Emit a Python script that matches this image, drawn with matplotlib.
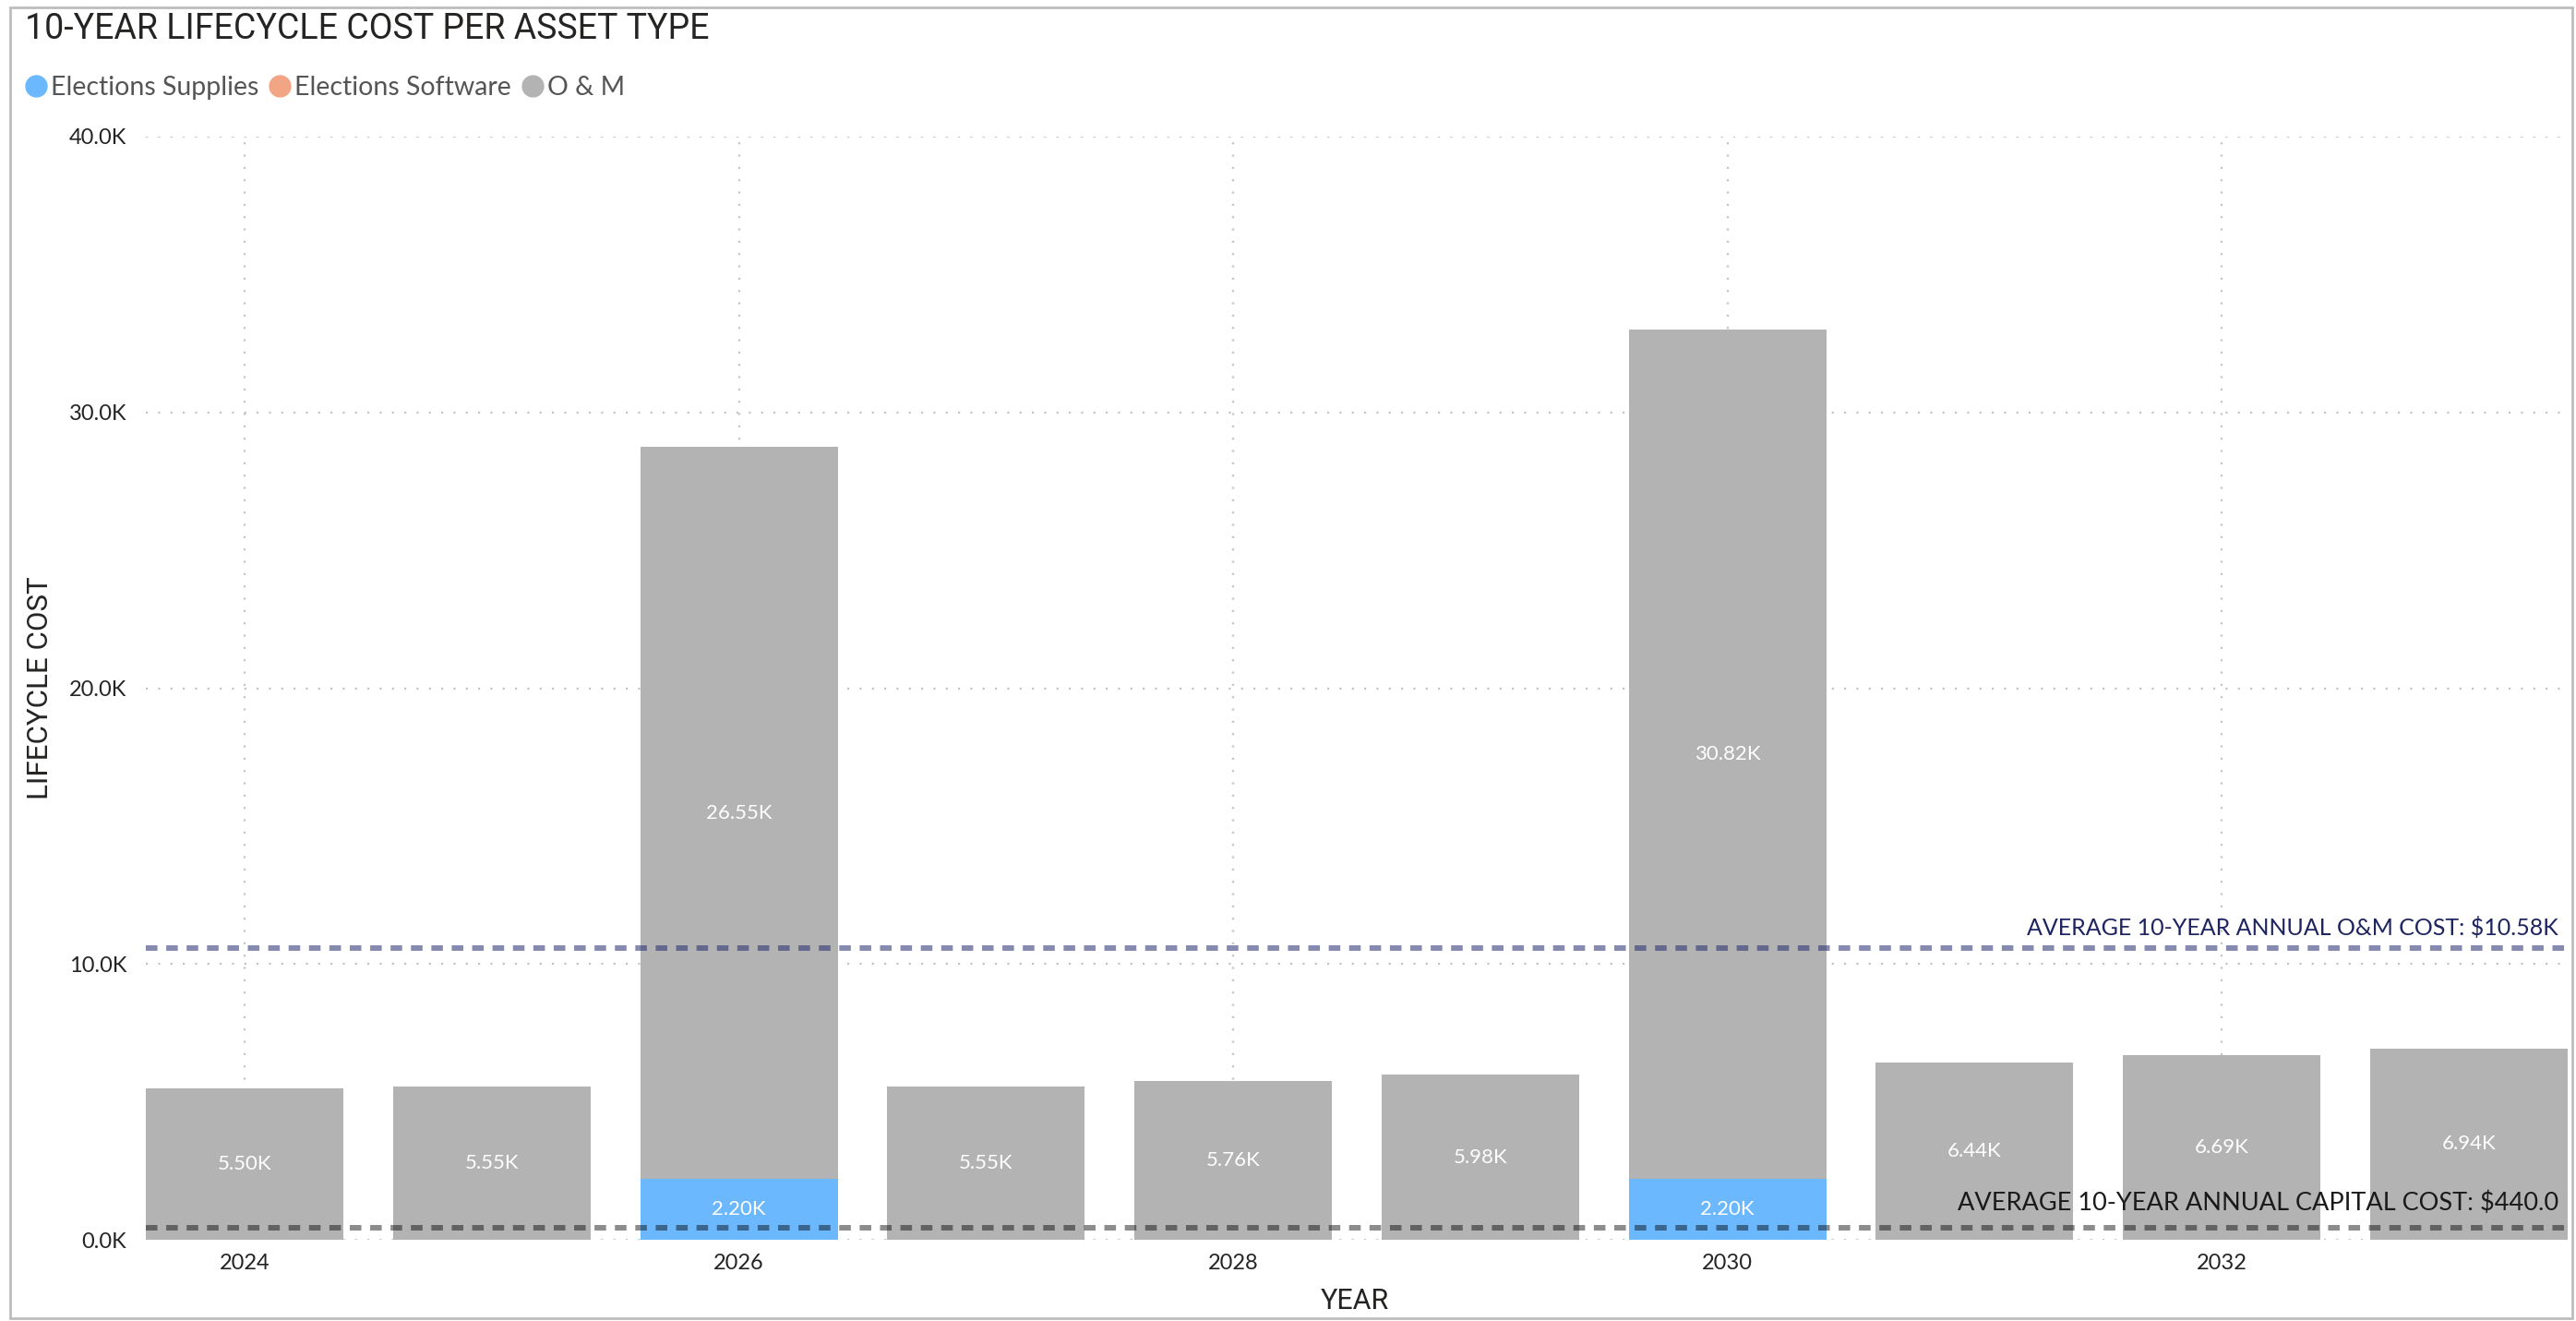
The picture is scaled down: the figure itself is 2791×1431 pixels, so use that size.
import matplotlib
matplotlib.use("Agg")
import matplotlib.pyplot as plt
from matplotlib.lines import Line2D
from matplotlib.patches import Rectangle
from matplotlib.ticker import FuncFormatter, MultipleLocator

# yearly cost by asset type (dollars)
years = [2024, 2025, 2026, 2027, 2028, 2029, 2030, 2031, 2032, 2033]
supplies = [0, 0, 2200, 0, 0, 0, 2200, 0, 0, 0]
software = [0, 0, 0, 0, 0, 0, 0, 0, 0, 0]
om_cost = [5500, 5550, 26550, 5550, 5760, 5980, 30820, 6440, 6690, 6940]

avg_om = 10580
avg_capital = 440.0

series_names = ["Elections Supplies", "Elections Software", "O & M"]
series_colors = ["#6BB8FF", "#F2A584", "#B3B3B3"]

W, H = 2791, 1431
fig = plt.figure(figsize=(W / 100, H / 100), dpi=100)
plt.rcParams["font.family"] = ["Lato", "DejaVu Sans"]
head_font = ["Roboto", "DejaVu Sans"]

ax = fig.add_axes([158 / W, 1 - 1343 / H, 2624 / W, 1195 / H])

x = list(range(len(years)))
bw = 0.8
ax.bar(x, supplies, bw, color=series_colors[0], zorder=2)
ax.bar(x, software, bw, bottom=supplies, color=series_colors[1], zorder=2)
base = [a + b for a, b in zip(supplies, software)]
ax.bar(x, om_cost, bw, bottom=base, color=series_colors[2], zorder=2)

# value labels in the middle of each segment
for i in x:
    if supplies[i] > 0:
        ax.text(i, supplies[i] / 2, f"{supplies[i] / 1000:.2f}K", ha="center",
                va="center", color="white", fontsize=16, zorder=5)
    if om_cost[i] > 0:
        ax.text(i, base[i] + om_cost[i] / 2, f"{om_cost[i] / 1000:.2f}K",
                ha="center", va="center", color="white", fontsize=16, zorder=5)

# average reference lines
ax.axhline(avg_om, color=(0.145, 0.17, 0.43), alpha=0.55, lw=4.3,
           ls=(0, (2.1, 1.6)), dash_capstyle="butt", zorder=3)
ax.axhline(avg_capital, color="black", alpha=0.45, lw=4.3,
           ls=(0, (2.1, 1.6)), dash_capstyle="butt", zorder=3)
ax.annotate(f"AVERAGE 10-YEAR ANNUAL O&M COST: ${avg_om / 1000:.2f}K",
            xy=(1, avg_om), xycoords=("axes fraction", "data"),
            xytext=(-10, 10), textcoords="offset pixels", ha="right", va="bottom",
            fontsize=18, color="#1E2460", zorder=6)
ax.annotate(f"AVERAGE 10-YEAR ANNUAL CAPITAL COST: ${avg_capital:.1f}",
            xy=(1, avg_capital), xycoords=("axes fraction", "data"),
            xytext=(-10, 14), textcoords="offset pixels", ha="right", va="bottom",
            fontsize=19.5, color="#1A1A1A", zorder=6)

ax.set_xlim(-0.4, len(years) - 0.6)
ax.set_ylim(0, 40000)
ax.yaxis.set_major_locator(MultipleLocator(10000))
ax.yaxis.set_major_formatter(FuncFormatter(lambda v, p: f"{v / 1000:.1f}K"))
ax.set_xticks(x[::2])
ax.set_xticklabels([str(y) for y in years[::2]])
ax.tick_params(length=0, labelsize=17, labelcolor="#252423")
ax.tick_params(axis="y", pad=15)
ax.tick_params(axis="x", pad=11)

ax.grid(True, axis="both", zorder=0, color="#C4C4C4", lw=1.6, ls=(0, (1, 5)))
ax.set_axisbelow(True)
for s in ax.spines.values():
    s.set_visible(False)

fig.text(1468 / W, 1 - 1409 / H, "YEAR", ha="center", va="center",
         fontsize=22, family=head_font, color="#252423")
fig.text(44 / W, 1 - 745 / H, "LIFECYCLE COST", ha="center", va="center",
         rotation=90, fontsize=22.5, family=head_font, color="#252423")

fig.text(27 / W, 1 - 32 / H, "10-YEAR LIFECYCLE COST PER ASSET TYPE",
         ha="left", va="center", fontsize=27, family=head_font,
         color="#252423")

handles = [Line2D([], [], ls="", marker="o", markersize=16.5, color=c)
           for c in series_colors]
fig.legend(handles, series_names, loc="center left",
           bbox_to_anchor=(27 / W, 1 - 95 / H), ncol=3, frameon=False,
           fontsize=20.5, labelcolor="#555555", handlelength=0.85,
           handletextpad=0.12, columnspacing=0.4, borderpad=0,
           borderaxespad=0)

# outer frame of the visual
fig.patches.append(Rectangle((11 / W, 1 - 1428 / H), 2776 / W, 1420 / H,
                             transform=fig.transFigure, fill=False,
                             edgecolor="#BDBDBD", lw=2))

fig.savefig("out.png", dpi=100)
